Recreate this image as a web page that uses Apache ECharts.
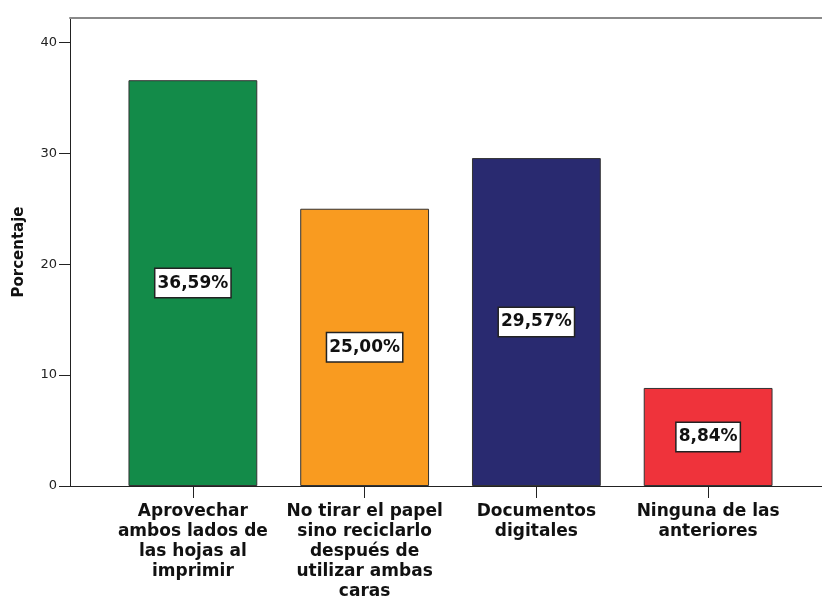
<!DOCTYPE html>
<html>
<head>
<meta charset="utf-8">
<script src="https://cdn.jsdelivr.net/npm/echarts@6/dist/echarts.min.js"></script>
<style>
  html, body { margin: 0; padding: 0; background: #fff; }
  #chart { width: 822px; height: 599px; }
</style>
</head>
<body>
<div id="chart"></div>
<script>
    // datos del gráfico
    let categories = [
        'Aprovechar\nambos lados de\nlas hojas al\nimprimir',
        'No tirar el papel\nsino reciclarlo\ndespués de\nutilizar ambas\ncaras',
        'Documentos\ndigitales',
        'Ninguna de las\nanteriores'
    ];
    let percentages = [36.59, 25.00, 29.57, 8.84];
    let barColors = ['#138b49', '#f99b20', '#292a70', '#ef333b'];
    let yTicks = [0, 10, 20, 30, 40];

    let fontFamily = '"DejaVu Sans", sans-serif';
    let chartDom = document.getElementById('chart');
    let myChart = echarts.init(chartDom);

    let option = {
        animation: false,
        backgroundColor: '#fff',
        grid: [
            // marco del gráfico
            { left: 70, right: 0, top: 18, bottom: 113, outerBoundsMode: 'none', containLabel: false },
            // zona de las barras
            { left: 107, right: 28, top: 18, bottom: 113, outerBoundsMode: 'none', containLabel: false }
        ],
        xAxis: [
            {
                gridIndex: 0, type: 'value', min: 0, max: 1, position: 'bottom',
                axisLine: { show: true, lineStyle: { color: '#222', width: 1 } },
                axisTick: { show: false }, axisLabel: { show: false }, splitLine: { show: false }
            },
            {
                gridIndex: 0, type: 'value', min: 0, max: 1, position: 'top',
                axisLine: { show: true, lineStyle: { color: '#8a8a8a', width: 2 } },
                axisTick: { show: false }, axisLabel: { show: false }, splitLine: { show: false }
            },
            {
                gridIndex: 1, type: 'category', data: categories, position: 'bottom',
                axisLine: { show: false },
                axisTick: { show: true, alignWithLabel: true, length: 12, lineStyle: { color: '#222' } },
                axisLabel: {
                    interval: 0, margin: 16, color: '#111',
                    fontFamily: fontFamily, fontWeight: 'bold', fontSize: 17, lineHeight: 20
                }
            }
        ],
        yAxis: [
            {
                gridIndex: 0, type: 'value', min: 0, max: 42.2,
                name: 'Porcentaje', nameLocation: 'middle', nameGap: 43, nameRotate: 90,
                nameTextStyle: { fontFamily: fontFamily, fontWeight: 'bold', fontSize: 15, color: '#111' },
                axisLine: { show: true, lineStyle: { color: '#222', width: 1 } },
                axisTick: { show: true, length: 11, customValues: yTicks, lineStyle: { color: '#222' } },
                axisLabel: { customValues: yTicks, margin: 13, color: '#222', fontFamily: fontFamily, fontSize: 13 },
                splitLine: { show: false }
            },
            {
                gridIndex: 1, type: 'value', min: 0, max: 42.2, show: false
            }
        ],
        series: [
            {
                type: 'bar',
                xAxisIndex: 2,
                yAxisIndex: 1,
                barWidth: '75%',
                data: percentages.map(function (v, i) {
                    return { value: v, itemStyle: { color: barColors[i] } };
                }),
                itemStyle: { borderColor: '#333', borderWidth: 1 },
                label: {
                    show: true,
                    position: 'inside',
                    formatter: function (p) {
                        return p.value.toFixed(2).replace('.', ',') + '%';
                    },
                    color: '#111',
                    fontFamily: fontFamily,
                    fontWeight: 'bold',
                    fontSize: 17,
                    backgroundColor: '#fff',
                    borderColor: '#222',
                    borderWidth: 1.5,
                    padding: [6, 2, 5, 2]
                }
            }
        ]
    };

    myChart.setOption(option);
</script>
</body>
</html>
